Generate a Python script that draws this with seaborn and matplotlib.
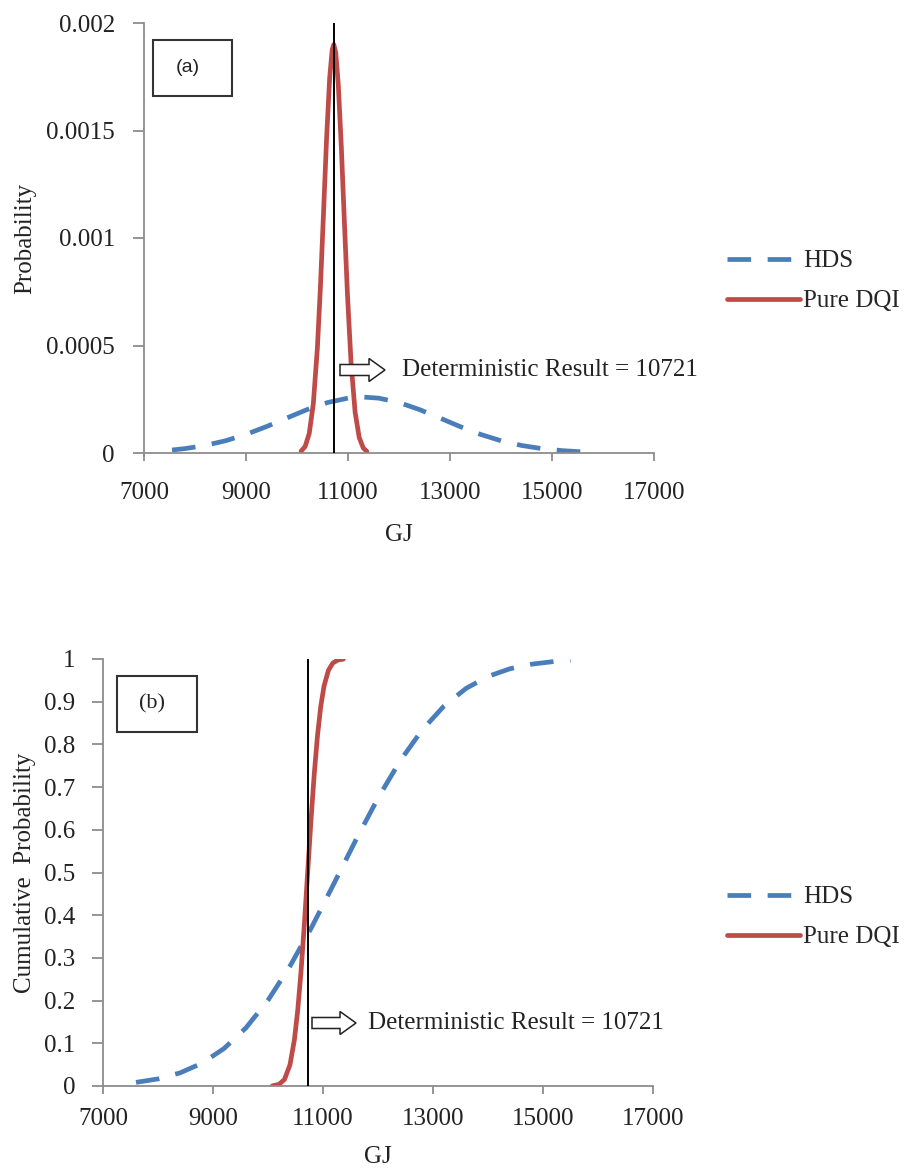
import matplotlib
matplotlib.use("Agg")
import matplotlib.pyplot as plt
import seaborn as sns
import pandas as pd
from matplotlib.patches import Rectangle, FancyArrow

# ---------------- data ----------------
hds_pdf_x = [7550, 7800, 8200, 8600, 9000, 9400, 9800, 10200, 10600, 11000, 11300,
             11600, 12000, 12400, 12800, 13200, 13600, 14000, 14400, 14800, 15200, 15500, 15800]
hds_pdf_y = [0.0000139, 0.0000203, 0.0000352, 0.000057, 0.0000865, 0.0001227, 0.0001628,
             0.0002021, 0.0002348, 0.0002552, 0.00026, 0.0002552, 0.0002348, 0.0002021,
             0.0001628, 0.0001227, 0.0000865, 0.000057, 0.0000352, 0.0000203, 0.000011,
             0.0000066, 0.0000038]

dqi_pdf_x = [10080, 10160, 10240, 10320, 10400, 10460, 10520, 10580, 10640, 10690, 10721,
             10760, 10810, 10870, 10930, 10990, 11060, 11140, 11220, 11300, 11370]
dqi_pdf_y = [0.0000086, 0.0000303, 0.0000907, 0.000229, 0.00049, 0.000776, 0.001117,
             0.001463, 0.001743, 0.001876, 0.0019, 0.001862, 0.001712, 0.001419, 0.00107,
             0.000734, 0.000419, 0.000189, 0.000072, 0.0000231, 0.0000075]

hds_cdf_x = [7600, 8000, 8400, 8800, 9200, 9600, 10000, 10400, 10800, 11200, 11600,
             12000, 12400, 12800, 13200, 13600, 14000, 14400, 14800, 15200, 15500]
hds_cdf_y = [0.0085, 0.0166, 0.0307, 0.0534, 0.0877, 0.1363, 0.2008, 0.2807, 0.3734,
             0.4743, 0.5768, 0.6742, 0.7611, 0.8334, 0.8899, 0.9311, 0.9592, 0.9772,
             0.988, 0.9941, 0.9966]

dqi_cdf_x = [10080, 10200, 10300, 10400, 10480, 10540, 10600, 10660, 10721, 10780,
             10840, 10900, 10960, 11020, 11100, 11180, 11270, 11370]
dqi_cdf_y = [0.0005, 0.0038, 0.0154, 0.0499, 0.1083, 0.1767, 0.2675, 0.3772, 0.5,
             0.6189, 0.7292, 0.8207, 0.8899, 0.9374, 0.974, 0.9907, 0.9976, 0.9996]

deterministic_value = 10721
series_names = ["HDS", "Pure DQI"]
x_ticks = [7000, 9000, 11000, 13000, 15000, 17000]
pdf_ticks = [0, 0.0005, 0.001, 0.0015, 0.002]
pdf_tick_labels = ["0", "0.0005", "0.001", "0.0015", "0.002"]
cdf_ticks = [0, 0.1, 0.2, 0.3, 0.4, 0.5, 0.6, 0.7, 0.8, 0.9, 1.0]
cdf_tick_labels = ["0", "0.1", "0.2", "0.3", "0.4", "0.5", "0.6", "0.7", "0.8", "0.9", "1"]
panel_labels = ["(a)", "(b)"]
annotation_text = "Deterministic Result = 10721"

# ---------------- style ----------------
sns.set_style("white")
plt.rcParams["font.family"] = ["Liberation Serif", "DejaVu Serif"]
BLUE = "#4A7EBB"
RED = "#BE4B48"
SPINE = "#8C8C8C"
TXT = "#222222"
FS = 18

W, H = 916, 1171
fig = plt.figure(figsize=(W / 100, H / 100), dpi=100)

def px_axes(l, t, r, b):
    return fig.add_axes([l / W, 1 - b / H, (r - l) / W, (b - t) / H])

ax1 = px_axes(144, 23, 654, 453)
ax2 = px_axes(103, 659, 653, 1086)

lw = 3.4
dash = (0, (5.0, 3.5))

def style_axes(ax, yticks, ylabels, ylabel, xpad, ypad, xlab_y, ylab_x):
    for s in ["top", "right"]:
        ax.spines[s].set_visible(False)
    for s in ["left", "bottom"]:
        ax.spines[s].set_color(SPINE)
        ax.spines[s].set_linewidth(1.3)
    ax.set_xlim(7000, 17000)
    ax.set_xticks(x_ticks)
    ax.set_xticklabels([str(v) for v in x_ticks])
    ax.set_yticks(yticks)
    ax.set_yticklabels(ylabels)
    ax.set_ylim(yticks[0], yticks[-1])
    ax.tick_params(axis="x", direction="out", length=6, width=1.3, color=SPINE,
                   labelsize=FS, labelcolor=TXT, pad=xpad, bottom=True)
    ax.tick_params(axis="y", direction="out", length=8, width=1.3, color=SPINE,
                   labelsize=FS, labelcolor=TXT, pad=ypad, left=True)
    ax.set_xlabel("GJ", fontsize=FS, color=TXT)
    ax.xaxis.set_label_coords(0.5, xlab_y)
    ax.xaxis.label.set_va("center")
    ax.set_ylabel(ylabel, fontsize=FS, color=TXT)
    ax.yaxis.set_label_coords(ylab_x, 0.5)
    ax.yaxis.label.set_va("center")

# ---------------- panel (a) ----------------
sns.lineplot(x=hds_pdf_x, y=hds_pdf_y, ax=ax1, color=BLUE, linewidth=lw,
             linestyle=dash, dash_capstyle="butt", label=series_names[0])
sns.lineplot(x=dqi_pdf_x, y=dqi_pdf_y, ax=ax1, color=RED, linewidth=lw,
             label=series_names[1])
ax1.axvline(deterministic_value, color="black", linewidth=1.4, zorder=5)
style_axes(ax1, pdf_ticks, pdf_tick_labels, "Probability", 15, 13,
           (453 - 535) / 430, (25 - 144) / 510)

# ---------------- panel (b) ----------------
sns.lineplot(x=hds_cdf_x, y=hds_cdf_y, ax=ax2, color=BLUE, linewidth=lw,
             linestyle=dash, dash_capstyle="butt", label=series_names[0])
sns.lineplot(x=dqi_cdf_x, y=dqi_cdf_y, ax=ax2, color=RED, linewidth=lw,
             label=series_names[1])
ax2.axvline(deterministic_value, color="black", linewidth=1.4, zorder=5)
style_axes(ax2, cdf_ticks, cdf_tick_labels, "Cumulative  Probability", 10, 12,
           (1086 - 1157) / 427, (25 - 103) / 550)

# ---------------- legends ----------------
for ax, yc in [(ax1, 281), (ax2, 917)]:
    h, l = ax.get_legend_handles_labels()
    ax.get_legend().remove()
    fig.legend(h, l, loc="center left", bbox_to_anchor=(727 / W, 1 - yc / H),
               frameon=False, handlelength=2.9, handletextpad=0.15,
               labelspacing=0.7, borderpad=0, borderaxespad=0,
               prop={"family": ["Liberation Serif"], "size": FS})

# ---------------- panel label boxes ----------------
def panel_box(ax, l, t, r, b, ax_l, ax_t, ax_r, ax_b, text, tx, family, size):
    aw, ah = ax_r - ax_l, ax_b - ax_t
    x0 = (l - ax_l) / aw
    y0 = (ax_b - b) / ah
    rect = Rectangle((x0, y0), (r - l) / aw, (b - t) / ah, transform=ax.transAxes,
                     fill=True, facecolor="white", edgecolor="#333333", linewidth=1.5,
                     zorder=6, clip_on=False)
    ax.add_patch(rect)
    ax.text((tx - ax_l) / aw, (ax_b - (t + b) / 2) / ah, text, transform=ax.transAxes,
            ha="center", va="center", fontsize=size, family=family, color=TXT, zorder=7)

panel_box(ax1, 153, 40, 232, 96, 144, 23, 654, 453, panel_labels[0], 188,
          ["Liberation Sans"], 14)
panel_box(ax2, 117, 676, 197, 732, 103, 659, 653, 1086, panel_labels[1], 152,
          ["Liberation Serif"], 16)

# ---------------- deterministic result annotation ----------------
def hollow_arrow(ax, tail, tip, yc, ax_l, ax_t, ax_r, ax_b, text_x):
    aw, ah = ax_r - ax_l, ax_b - ax_t
    y = (ax_b - yc) / ah
    arr = FancyArrow((tail - ax_l) / aw, y, (tip - tail) / aw, 0,
                     width=11 / ah, head_width=23 / ah, head_length=16 / aw,
                     length_includes_head=True, transform=ax.transAxes,
                     facecolor="white", edgecolor="#222222", linewidth=1.1,
                     zorder=8, clip_on=False)
    ax.add_patch(arr)
    ax.text((text_x - ax_l) / aw, y, annotation_text, transform=ax.transAxes,
            ha="left", va="center", fontsize=FS, color=TXT, zorder=8)

hollow_arrow(ax1, 340, 385, 370, 144, 23, 654, 453, 402)
hollow_arrow(ax2, 312, 356, 1023, 103, 659, 653, 1086, 368)

fig.savefig("out.png", dpi=100)
